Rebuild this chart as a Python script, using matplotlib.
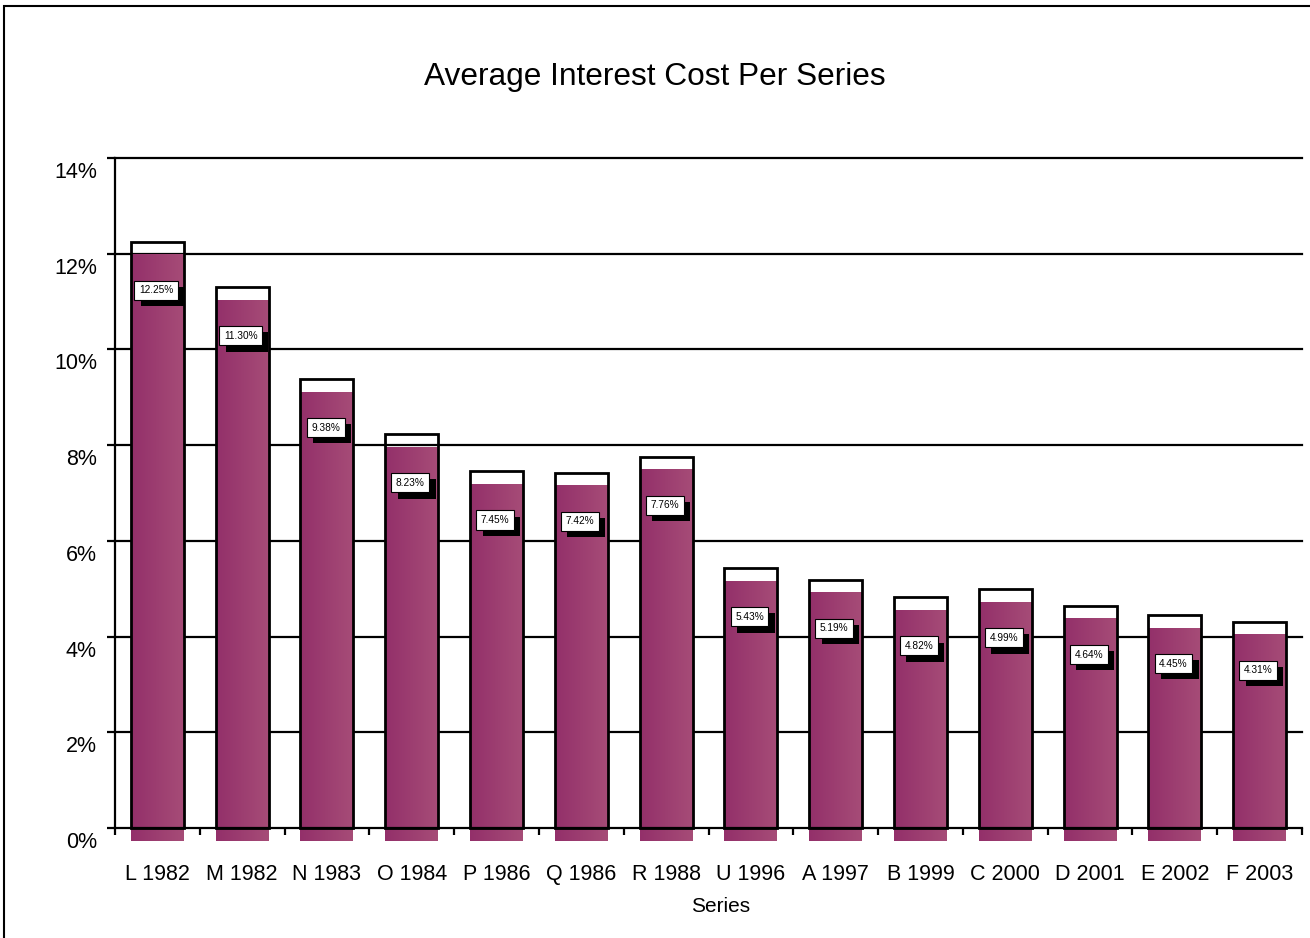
import matplotlib
matplotlib.use('Agg')
import matplotlib.pyplot as plt
import matplotlib.patches as patches
import matplotlib.patheffects as pe
from matplotlib.colors import LinearSegmentedColormap
from matplotlib.transforms import ScaledTranslation
import numpy as np

plt.rcParams['font.family'] = ['Liberation Sans', 'DejaVu Sans']

series = ['L 1982', 'M 1982', 'N 1983', 'O 1984', 'P 1986', 'Q 1986', 'R 1988',
          'U 1996', 'A 1997', 'B 1999', 'C 2000', 'D 2001', 'E 2002', 'F 2003']
cost = [12.25, 11.30, 9.38, 8.23, 7.45, 7.42, 7.76,
        5.43, 5.19, 4.82, 4.99, 4.64, 4.45, 4.31]
yticks = [0, 2, 4, 6, 8, 10, 12, 14]

fig = plt.figure(figsize=(13.1, 9.38), dpi=100)
ax = fig.add_axes([0.0878, 0.1173, 0.9061, 0.7143])

# outer frame of the chart area
fig.patches.append(patches.Rectangle((0.0031, -0.1), 2, 1.0936, transform=fig.transFigure,
                                     fill=False, ec='black', lw=1.5))

# gridlines behind bars
for t in yticks[1:]:
    ax.axhline(t, color='black', lw=1.6, zorder=0, clip_on=False)

cmap = LinearSegmentedColormap.from_list('bar', ['#93306a', '#a64c77'])
grad = np.linspace(0, 1, 64).reshape(1, -1)
w = 0.3125
shift = 0.28
for i, v in enumerate(cost):
    ax.imshow(grad, cmap=cmap, aspect='auto', extent=(i - w, i + w, -shift, v - shift),
              zorder=1, clip_on=False, interpolation='bilinear')
    ax.add_patch(patches.Rectangle((i - w, 0), 2 * w, v, fill=False, ec='black', lw=2.0,
                                   zorder=2, clip_on=False))
    t = ax.annotate('%.2f%%' % v, xy=(i, v), xytext=(-1, -35), textcoords='offset points',
                    ha='center', va='center', fontsize=7.3, color='black', zorder=4,
                    bbox=dict(boxstyle='square,pad=0.45', fc='white', ec='black', lw=0.8))
    t.get_bbox_patch().set_path_effects([
        pe.SimplePatchShadow(offset=(4.5, -4.5), shadow_rgbFace='black', alpha=1.0),
        pe.Normal()])

ax.set_xlim(-0.5, len(series) - 0.5)
ax.set_ylim(0, 14)

for s in ['top', 'right']:
    ax.spines[s].set_visible(False)
ax.spines['left'].set_linewidth(1.6)
ax.spines['bottom'].set_linewidth(1.6)
ax.spines['bottom'].set_zorder(5)

ax.set_yticks(yticks)
ax.set_yticklabels(['%d%%' % t for t in yticks], fontsize=15.5)
ax.tick_params(axis='y', length=6, width=1.6, pad=7)
for lbl in ax.get_yticklabels():
    lbl.set_transform(lbl.get_transform() + ScaledTranslation(0, -0.12, fig.dpi_scale_trans))

ax.set_xticks(range(len(series)))
ax.set_xticklabels(series, fontsize=15.5)
ax.set_xticks(np.arange(-0.5, len(series)), minor=True)
ax.tick_params(axis='x', which='major', length=0, pad=26)
ax.tick_params(axis='x', which='minor', length=5, width=1.6)

ax.set_xlabel('Series', fontsize=15)
ax.xaxis.set_label_coords(0.51, -0.103)

fig.suptitle('Average Interest Cost Per Series', fontsize=22.8, y=0.934)

fig.savefig('out.png', dpi=100)
